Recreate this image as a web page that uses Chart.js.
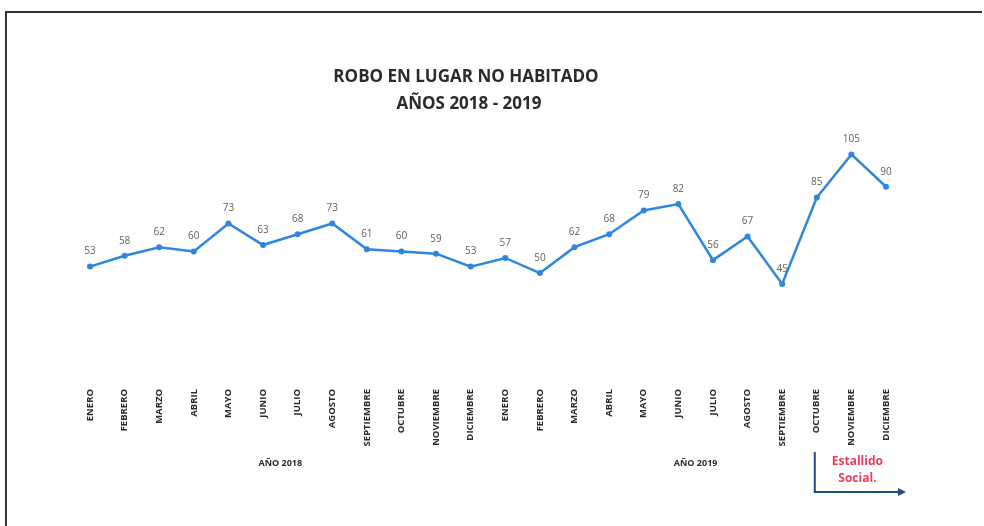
<!DOCTYPE html>
<html>
<head>
<meta charset="utf-8">
<script src="https://cdn.jsdelivr.net/npm/chart.js@4/dist/chart.umd.min.js"></script>
<style>
  html, body { margin: 0; padding: 0; background: #fff; }
  #wrap { position: relative; width: 984px; height: 526px; overflow: hidden; }
  #frame { position: absolute; left: 5px; top: 11px; width: 975px; height: 530px;
           border-top: 2px solid #333; border-left: 2px solid #333; }
  canvas { position: absolute; left: 0; top: 0; }
</style>
</head>
<body>
<div id="wrap">
  <div id="frame"></div>
  <canvas id="chart" width="984" height="526"></canvas>
</div>
<script>
// month names, repeated for both years
const months = ['ENERO', 'FEBRERO', 'MARZO', 'ABRIL', 'MAYO', 'JUNIO', 'JULIO', 'AGOSTO',
  'SEPTIEMBRE', 'OCTUBRE', 'NOVIEMBRE', 'DICIEMBRE'];
const labels = months.concat(months);

const values2018 = [53, 58, 62, 60, 73, 63, 68, 73, 61, 60, 59, 53];
const values2019 = [57, 50, 62, 68, 79, 82, 56, 67, 45, 85, 105, 90];
const values = values2018.concat(values2019);

const yearLabels = ['AÑO 2018', 'AÑO 2019'];
const titleLines = ['ROBO EN LUGAR NO HABITADO', 'AÑOS 2018 - 2019'];
const noteLines = ['Estallido', 'Social.'];
const noteStartIndex = 21; // OCTUBRE 2019

const FONT = "'Open Sans', sans-serif";

const decorations = {
  id: 'decorations',
  afterDatasetsDraw(chart) {
    const ctx = chart.ctx;
    const x = chart.scales.x;
    const meta = chart.getDatasetMeta(0);
    ctx.save();

    // title
    ctx.fillStyle = '#2b2b2b';
    ctx.textAlign = 'center';
    ctx.textBaseline = 'middle';
    ctx.font = 'bold 17px ' + FONT;
    ctx.fillText(titleLines[0], 466, 77);
    ctx.fillText(titleLines[1], 469, 104);

    // value labels above points
    ctx.font = '10px ' + FONT;
    ctx.fillStyle = '#606060';
    meta.data.forEach((pt, i) => {
      ctx.fillText(String(values[i]), pt.x, pt.y - 15);
    });

    // year labels under each group of months
    ctx.font = 'bold 9px ' + FONT;
    ctx.fillStyle = '#2b2b2b';
    yearLabels.forEach((yl, g) => {
      const cx = (x.getPixelForValue(g * 12 + 5) + x.getPixelForValue(g * 12 + 6)) / 2;
      ctx.fillText(yl, cx, 463);
    });

    // "Estallido Social." note with L-shaped arrow
    const ax = x.getPixelForValue(noteStartIndex) - 2;
    const endX = x.getPixelForValue(labels.length - 1) + 20;
    ctx.font = 'bold 12px ' + FONT;
    ctx.fillStyle = '#e8405a';
    const tx = (ax + endX) / 2 - 3;
    ctx.fillText(noteLines[0], tx, 462);
    ctx.fillText(noteLines[1], tx, 479);

    ctx.strokeStyle = '#1f4a8c';
    ctx.lineWidth = 2;
    ctx.beginPath();
    ctx.moveTo(ax, 452);
    ctx.lineTo(ax, 492);
    ctx.lineTo(endX - 6, 492);
    ctx.stroke();
    ctx.fillStyle = '#1f4a8c';
    ctx.beginPath();
    ctx.moveTo(endX, 492);
    ctx.lineTo(endX - 8, 488);
    ctx.lineTo(endX - 8, 496);
    ctx.closePath();
    ctx.fill();

    ctx.restore();
  }
};

new Chart(document.getElementById('chart'), {
  type: 'line',
  data: {
    labels: labels,
    datasets: [{
      data: values,
      borderColor: '#2f86df',
      backgroundColor: '#2f86df',
      borderWidth: 2.5,
      pointRadius: 3,
      pointBackgroundColor: '#2f86df',
      pointBorderWidth: 0,
      tension: 0
    }]
  },
  options: {
    responsive: false,
    animation: false,
    layout: { padding: { left: 90, right: 98, top: 122, bottom: 0 } },
    plugins: { legend: { display: false }, tooltip: { enabled: false } },
    scales: {
      x: {
        offset: false,
        grid: { display: false },
        border: { display: false },
        afterFit(scale) { scale.height = 145; },
        ticks: {
          autoSkip: false,
          minRotation: 90,
          maxRotation: 90,
          padding: 0,
          color: '#2b2b2b',
          font: { family: FONT, size: 9.5, weight: 'bold' }
        }
      },
      y: {
        display: false,
        min: 0,
        max: 120
      }
    }
  },
  plugins: [decorations]
});
</script>
</body>
</html>
